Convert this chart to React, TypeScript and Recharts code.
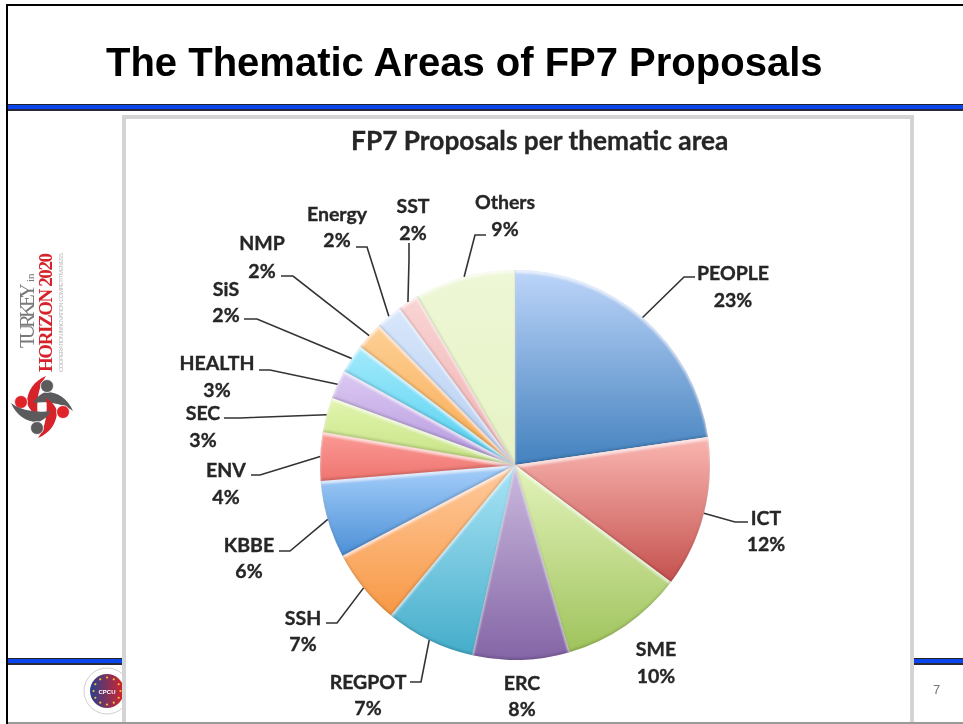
import React from 'react';
import { PieChart, Pie, Cell } from 'recharts';

// slices run clockwise from 12 o'clock
const areas = ['PEOPLE', 'ICT', 'SME', 'ERC', 'REGPOT', 'SSH', 'KBBE', 'ENV', 'SEC', 'HEALTH', 'SiS', 'NMP', 'Energy', 'SST', 'Others'];
const sliceSizes = [22.7, 12.55, 10.25, 8, 7.5, 6.3, 6.4, 4, 2.9, 2.4, 2.4, 2.3, 2.2, 1.7, 8.4];
// percentages as printed on the callouts
const printedShares = [23, 12, 10, 8, 7, 7, 6, 4, 3, 3, 2, 2, 2, 2, 9];
const lightColors = ['#bdd5f9', '#fab6b1', '#e3f3bb', '#cbbade', '#aae4f6', '#ffcb9e', '#a6cffb', '#fb9a95', '#e2f5ae', '#dcc9f2', '#a4eafb', '#fdd095', '#d8e7fb', '#f9d4d4', '#eef7d6'];
const darkColors = ['#4381be', '#c4514e', '#9fc35c', '#8465a6', '#45adca', '#f79845', '#4c90d6', '#ef7570', '#c6e284', '#b497de', '#4fcff0', '#f8a94f', '#b4cdf1', '#f0b0b0', '#e6f3c4'];

// where each callout text sits, and the bend of its leader line
const calloutSpots = [
  { x: 733, y1: 273, y2: 300, tail: [695, 277], elbow: [684, 277] },
  { x: 766, y1: 518, y2: 544, tail: [748, 522], elbow: [735, 522] },
  { x: 656, y1: 649, y2: 676 },
  { x: 522, y1: 683, y2: 709 },
  { x: 368, y1: 682, y2: 708, tail: [410, 682], elbow: [421, 682] },
  { x: 303, y1: 618, y2: 644, tail: [326, 623], elbow: [337, 623] },
  { x: 249, y1: 545, y2: 571, tail: [279, 551], elbow: [290, 551] },
  { x: 226, y1: 470, y2: 497, tail: [251, 475], elbow: [260, 475] },
  { x: 203, y1: 413, y2: 440, tail: [224, 418], elbow: [240, 418] },
  { x: 217, y1: 363, y2: 390, tail: [259, 370], elbow: [270, 370] },
  { x: 226, y1: 289, y2: 315, tail: [244, 319], elbow: [257, 319] },
  { x: 262, y1: 243, y2: 271, tail: [281, 276], elbow: [293, 276] },
  { x: 337, y1: 214, y2: 240, tail: [356, 247], elbow: [367, 247] },
  { x: 413, y1: 206, y2: 233, tail: [409, 243], elbow: [409, 260] },
  { x: 505, y1: 202, y2: 229, tail: [486, 235], elbow: [475, 235] },
];

const tableData = areas.map((name, i) => ({ name, value: sliceSizes[i], printed: printedShares[i] }));

const RADIAN = Math.PI / 180;
const labelFont = 'Lato, "Open Sans", sans-serif';

const renderCallout = (props: any) => {
  const { cx, cy, midAngle, outerRadius, index, name } = props;
  const spot = calloutSpots[index];
  const edgeX = cx + outerRadius * Math.cos(-midAngle * RADIAN);
  const edgeY = cy + outerRadius * Math.sin(-midAngle * RADIAN);
  const textProps = {
    x: spot.x,
    dy: '0.35em',
    textAnchor: 'middle' as const,
    fontFamily: labelFont,
    fontWeight: 700,
    fontSize: 19.5,
    fill: '#262626',
    stroke: '#262626',
    strokeWidth: 0.35,
  };
  return (
    <g key={name}>
      {spot.tail && (
        <polyline
          points={`${spot.tail[0]},${spot.tail[1]} ${spot.elbow[0]},${spot.elbow[1]} ${edgeX},${edgeY}`}
          fill="none"
          stroke="#333"
          strokeWidth={1.6}
        />
      )}
      <text y={spot.y1} {...textProps}>{name}</text>
      <text y={spot.y2} {...textProps}>{printedShares[index]}%</text>
    </g>
  );
};

const bar = (top: number, height: number, color: string, left = 8): React.CSSProperties => ({
  position: 'absolute',
  left,
  right: 0,
  top,
  height,
  background: color,
});

// the two rules under the title and above the footer
const BlueRule = ({ top }: { top: number }) => (
  <>
    <div style={bar(top, 1, '#222')} />
    <div style={bar(top + 1, 4, '#0a46ee')} />
    <div style={bar(top + 5, 2, '#2a2a3a')} />
  </>
);

const armAngles = [0, 90, 180, 270];
const armColors = ['#d6232a', '#5b5b5d', '#d6232a', '#5b5b5d'];

const SideLogo = () => (
  <svg width={80} height={200} viewBox="0 0 80 200" style={{ position: 'absolute', left: 0, top: 245 }}>
    <text transform="translate(34,103) rotate(-90)" fontFamily="Liberation Serif" fontSize={21} fill="#7a7a7a" textLength={65}>TURKEY</text>
    <text transform="translate(34,37) rotate(-90)" fontFamily="Liberation Serif" fontSize={11} fill="#7a7a7a">in</text>
    <text transform="translate(52,127) rotate(-90)" fontFamily="Liberation Serif" fontWeight={700} fontSize={19} fill="#d6232a" textLength={119}>HORIZON 2020</text>
    <text transform="translate(63,127) rotate(-90)" fontFamily="Liberation Sans" fontSize={6} fill="#b5b5b5" textLength={119}>COOPERATION INNOVATION COMPETITIVENESS</text>
    {armAngles.map((a, i) => (
      <g key={a} transform={`rotate(${a} 42 162)`}>
        <path d="M46 131 C34 136 27 146 27 158 C29 164 33 168 38 171 C36 158 38 142 46 131 Z" fill={armColors[i]} />
        <circle cx={21} cy={157} r={6.5} fill={i % 2 ? '#5b5b5d' : '#e0242a'} stroke="#fff" strokeWidth={0.8} />
      </g>
    ))}
  </svg>
);

const sealStars = [0, 30, 60, 90, 120, 150, 180, 210, 240, 270, 300, 330];

const FooterSeal = () => (
  <svg width={50} height={50} viewBox="0 0 50 50" style={{ position: 'absolute', left: 82, top: 666 }}>
    <defs>
      <linearGradient id="sealFill" x1="0" y1="0" x2="1" y2="0">
        <stop offset="0" stopColor="#27408f" />
        <stop offset="1" stopColor="#d8232a" />
      </linearGradient>
    </defs>
    <circle cx={25} cy={25} r={23} fill="#fff" stroke="#cfcfcf" />
    <circle cx={25} cy={25} r={17} fill="url(#sealFill)" />
    {sealStars.map((a) => (
      <circle key={a} cx={25 + 13.5 * Math.cos(a * RADIAN)} cy={25 + 13.5 * Math.sin(a * RADIAN)} r={1.1} fill="#f2c83a" />
    ))}
    <text x={25} y={28} textAnchor="middle" fontFamily="Liberation Sans" fontWeight={700} fontSize={6} fill="#fff">CPCU</text>
  </svg>
);

export default function App() {
  return (
    <div style={{ position: 'absolute', left: 0, top: 0, width: 963, height: 724, overflow: 'hidden', background: '#fff', filter: 'blur(0.45px)' }}>
      <style>{`.recharts-sector { filter: url(#bevel); }`}</style>
      <div style={bar(4, 2, '#000', 6)} />
      <div style={{ position: 'absolute', left: 6, top: 4, width: 2, height: 720, background: '#000' }} />
      <div style={{ position: 'absolute', left: 106, top: 40, fontFamily: 'Liberation Sans', fontWeight: 700, fontSize: 40, color: '#000', whiteSpace: 'nowrap' }}>
        The Thematic Areas of FP7 Proposals
      </div>
      <BlueRule top={104} />
      <BlueRule top={658} />
      <SideLogo />
      <FooterSeal />
      <div style={{ position: 'absolute', left: 933, top: 682, fontFamily: 'Liberation Sans', fontSize: 13, color: '#777' }}>7</div>

      {/* chart panel pasted over the slide */}
      <div style={{ position: 'absolute', left: 122, top: 115, width: 784, height: 620, border: '4px solid #d4d4d4', background: '#fff' }} />
      <div style={bar(722, 2, '#9a9a9a', 8)} />
      <div style={{ position: 'absolute', left: 351, top: 124, fontFamily: labelFont, fontWeight: 700, fontSize: 26.3, color: '#262626', WebkitTextStroke: '0.3px #262626', whiteSpace: 'nowrap' }}>
        FP7 Proposals per thematic area
      </div>

      <div style={{ position: 'absolute', left: 0, top: 0 }}>
        <PieChart width={963} height={724}>
          <defs>
            {areas.map((name, i) => (
              <linearGradient key={name} id={`slice${i}`} x1="0" y1="0" x2="0" y2="1">
                <stop offset="0" stopColor={lightColors[i]} />
                <stop offset="1" stopColor={darkColors[i]} />
              </linearGradient>
            ))}
            {/* gel look: light rim on top edges, dark rim on lower edges */}
            <filter id="bevel" x="-10%" y="-10%" width="120%" height="120%">
              <feGaussianBlur in="SourceAlpha" stdDeviation="1.2" result="soft" />
              <feOffset in="soft" dy="2.5" result="down" />
              <feComposite in="SourceAlpha" in2="down" operator="out" result="topRim" />
              <feFlood floodColor="#fff" floodOpacity="0.6" />
              <feComposite in2="topRim" operator="in" result="light" />
              <feOffset in="soft" dy="-2" result="up" />
              <feComposite in="SourceAlpha" in2="up" operator="out" result="lowRim" />
              <feFlood floodColor="#000" floodOpacity="0.3" />
              <feComposite in2="lowRim" operator="in" result="dark" />
              <feMerge>
                <feMergeNode in="SourceGraphic" />
                <feMergeNode in="light" />
                <feMergeNode in="dark" />
              </feMerge>
            </filter>
          </defs>
          <Pie
            data={tableData}
            dataKey="value"
            nameKey="name"
            cx={510}
            cy={460}
            outerRadius={195}
            startAngle={90}
            endAngle={-270}
            stroke="none"
            label={renderCallout}
            labelLine={false}
            isAnimationActive={false}
          >
            {areas.map((name, i) => (
              <Cell key={name} fill={`url(#slice${i})`} />
            ))}
          </Pie>
        </PieChart>
      </div>
    </div>
  );
}
